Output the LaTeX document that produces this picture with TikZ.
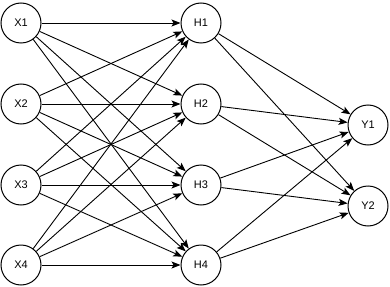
\documentclass[tikz,border=0pt]{standalone}
\usepackage{fontspec}
\setmainfont{Liberation Sans}
\usetikzlibrary{arrows.meta}
\begin{document}
\begin{tikzpicture}[x=1pt,y=-1pt,
  neuron/.style={circle,draw=black,line width=1pt,fill=white,minimum size=40pt,inner sep=0pt,font=\fontsize{11}{13}\selectfont},
  conn/.style={line width=0.9pt,-{Stealth[length=9pt,width=7pt,inset=2pt]}}]
\useasboundingbox (0,0) rectangle (390,286);
\node[neuron] (x1) at (21,23) {X1};
\node[neuron] (x2) at (21,104) {X2};
\node[neuron] (x3) at (21,185) {X3};
\node[neuron] (x4) at (21,265) {X4};
\node[neuron] (h1) at (201,23) {H1};
\node[neuron] (h2) at (201,104) {H2};
\node[neuron] (h3) at (201,185) {H3};
\node[neuron] (h4) at (201,265) {H4};
\node[neuron] (y1) at (368,125) {Y1};
\node[neuron] (y2) at (368,206) {Y2};
\foreach \i in {1,2,3,4}{
  \foreach \j in {1,2,3,4}{
    \draw[conn] (x\i) -- (h\j);
  }
  \foreach \k in {1,2}{
    \draw[conn] (h\i) -- (y\k);
  }
}
\end{tikzpicture}
\end{document}
